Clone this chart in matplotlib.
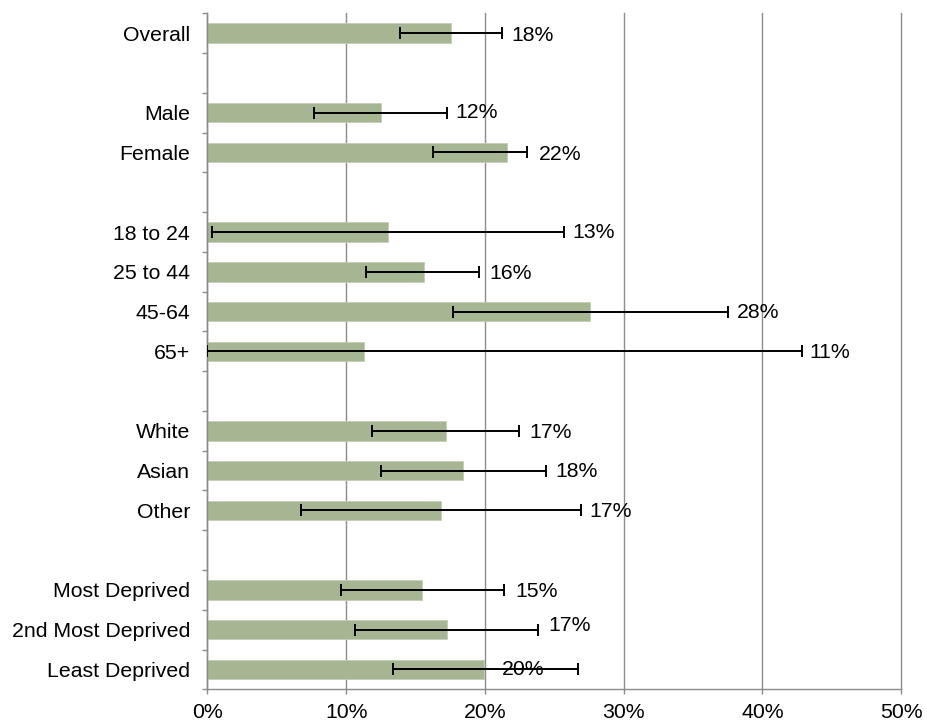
import matplotlib
matplotlib.use("Agg")
import matplotlib.pyplot as plt
import numpy as np

plt.rcParams['font.family'] = ['Liberation Sans', 'DejaVu Sans']

# Rows from top to bottom; empty strings are spacer rows between groups
categories = ["Overall", "", "Male", "Female", "", "18 to 24", "25 to 44", "45-64", "65+", "",
              "White", "Asian", "Other", "", "Most Deprived", "2nd Most Deprived", "Least Deprived"]
values = [17.56, None, 12.49, 21.57, None, 13.0, 15.6, 27.58, 11.27, None,
          17.17, 18.45, 16.81, None, 15.47, 17.24, 19.95]
ci_low = [13.9, None, 7.68, 16.23, None, 0.35, 11.4, 17.69, 0.0, None,
          11.86, 12.49, 6.74, None, 9.6, 10.61, 13.4]
ci_high = [21.25, None, 17.24, 23.04, None, 25.7, 19.59, 37.5, 42.84, None,
           22.48, 24.4, 26.93, None, 21.38, 23.85, 26.69]
x_ticks = [0, 10, 20, 30, 40, 50]

# Where each value label sits (in % along the axis) and a small vertical nudge (rows)
label_x = [21.9, None, 17.9, 23.9, None, 26.3, 20.3, 38.2, 43.4, None,
           23.2, 25.1, 27.5, None, 22.2, 24.6, 21.2]
label_dy = [0.05, None, 0.0, 0.05, None, 0.0, 0.05, 0.03, 0.03, None,
            0.03, 0.03, 0.03, None, 0.05, -0.1, 0.0]

bar_color = "#a6b592"
grid_color = "#8c8c8c"

fig = plt.figure(figsize=(9.27, 7.24), dpi=100)
ax = fig.add_axes([0.2238, 0.0479, 0.972 - 0.2238, 0.9816 - 0.0479])

n = len(categories)
ypos = np.arange(n)
idx = [i for i, v in enumerate(values) if v is not None]
vals = np.array([values[i] for i in idx])
lo = np.array([ci_low[i] for i in idx])
hi = np.array([ci_high[i] for i in idx])
yy = ypos[idx]

ax.barh(yy, vals, height=0.49, color=bar_color, edgecolor="#c3ceb5", linewidth=0.6, zorder=2)
ax.errorbar(vals, yy, xerr=[vals - lo, hi - vals], fmt="none", ecolor="black",
            elinewidth=1.4, capsize=4.2, capthick=1.4, zorder=4)

for i in idx:
    ax.text(label_x[i], ypos[i] + label_dy[i], f"{round(values[i]):d}%",
            ha="left", va="center", fontsize=15.3, color="black", zorder=3)

ax.set_xlim(0, 50)
ax.set_ylim(n - 0.5, -0.5)
ax.set_xticks(x_ticks)
ax.set_xticklabels([f"{t}%" for t in x_ticks])
ax.xaxis.grid(True, color=grid_color, linewidth=1.0, zorder=0)
ax.set_axisbelow(True)
for gl in ax.get_xgridlines():
    gl.set_clip_on(False)

ax.set_yticks(ypos)
ax.set_yticklabels(categories)
ax.set_yticks(np.arange(-0.5, n, 1.0), minor=True)
ax.tick_params(axis="y", which="major", length=0, pad=12.5, labelsize=15.3)
ax.tick_params(axis="y", which="minor", length=3.6, width=1.0, color=grid_color, direction="out")
ax.tick_params(axis="x", which="major", length=3.6, width=1.0, color=grid_color,
               direction="out", pad=6, labelsize=15.3)

for s in ["top", "right"]:
    ax.spines[s].set_visible(False)
for s in ["left", "bottom"]:
    ax.spines[s].set_color(grid_color)
    ax.spines[s].set_linewidth(1.0)

fig.savefig("out.png", dpi=100)
